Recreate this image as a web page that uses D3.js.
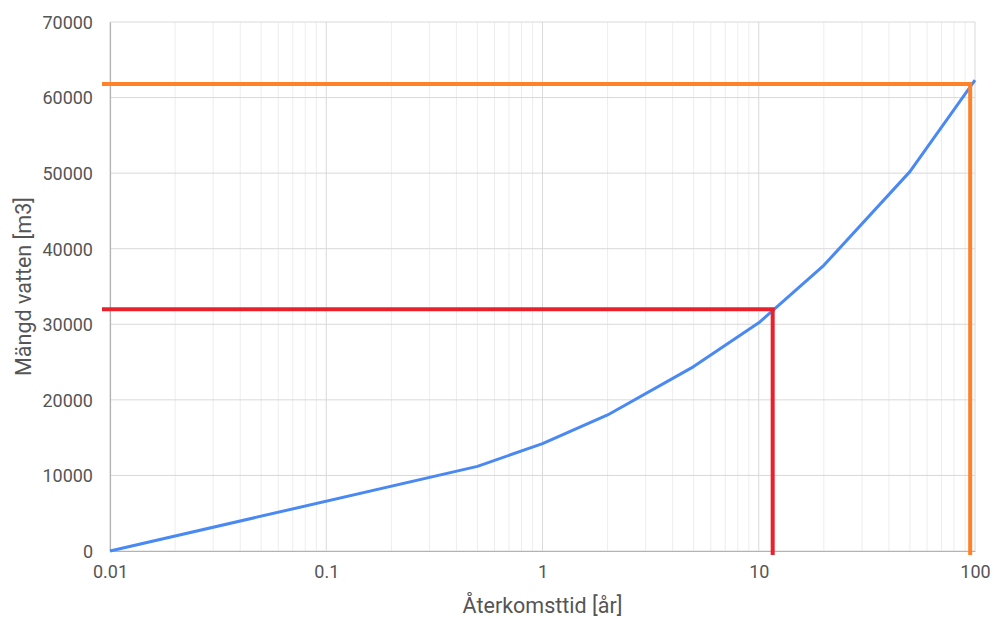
<!DOCTYPE html>
<html>
<head>
<meta charset="utf-8">
<script src="https://cdn.jsdelivr.net/npm/d3@7"></script>
<style>
  body { margin: 0; background: #fff; }
  text { font-family: Roboto, "Noto Sans", Arial, sans-serif; }
</style>
</head>
<body>
<div id="chart"></div>
<script>
// data
const years = [0.01, 0.5, 1, 2, 5, 10, 20, 50, 100];
const volume = [0, 11200, 14200, 18000, 24400, 30200, 37800, 50200, 62300];
const xTicks = [0.01, 0.1, 1, 10, 100];
const yTicks = [0, 10000, 20000, 30000, 40000, 50000, 60000, 70000];
// markerad punkt: 10-årsregn och 100-årsregn
const refYear = [11.6, 95];
const refVolume = [32000, 61800];
const refColor = ["#e9212c", "#ff8229"];

const W = 994, H = 619;
const margin = {top: 22, right: 19, bottom: 68, left: 110};
const width = W - margin.left - margin.right;
const height = H - margin.top - margin.bottom;

const svg = d3.select("#chart").append("svg")
    .attr("width", W).attr("height", H);
const g = svg.append("g")
    .attr("transform", "translate(" + margin.left + "," + margin.top + ")");

const x = d3.scaleLog().domain([0.01, 100]).range([0, width]);
const y = d3.scaleLinear().domain([0, 70000]).range([height, 0]);

// minor grid
const minor = [];
for (let e = -2; e < 2; e++) {
    for (let k = 2; k <= 9; k++) minor.push(k * Math.pow(10, e));
}
g.append("g").selectAll("line").data(minor).enter().append("line")
    .attr("x1", d => x(d)).attr("x2", d => x(d))
    .attr("y1", 0).attr("y2", height)
    .attr("stroke", "#ededed").attr("stroke-width", 1);

// major grid
g.append("g").selectAll("line").data(xTicks).enter().append("line")
    .attr("x1", d => x(d)).attr("x2", d => x(d))
    .attr("y1", 0).attr("y2", height)
    .attr("stroke", "#d9d9d9").attr("stroke-width", 1);
g.append("g").selectAll("line").data(yTicks).enter().append("line")
    .attr("x1", 0).attr("x2", width)
    .attr("y1", d => y(d)).attr("y2", d => y(d))
    .attr("stroke", "#d9d9d9").attr("stroke-width", 1);

// axes
const xAxis = d3.axisBottom(x).tickValues(xTicks).tickFormat(d => String(d)).tickSize(0).tickPadding(14);
const yAxis = d3.axisLeft(y).tickValues(yTicks).tickFormat(d => String(d)).tickSize(0).tickPadding(17);

const xg = g.append("g").attr("transform", "translate(0," + height + ")").call(xAxis);
const yg = g.append("g").call(yAxis);
[xg, yg].forEach(a => {
    a.select(".domain").attr("stroke", "#b3b3b3").attr("stroke-width", 1.2);
    a.selectAll(".tick text")
        .attr("fill", "#555")
        .style("font-size", "18px")
        .style("font-family", "Roboto, Arial, sans-serif");
});
yg.selectAll(".tick text").attr("dy", "0.35em");

// line
const line = d3.line()
    .x((d, i) => x(years[i]))
    .y(d => y(d));
g.append("path")
    .attr("d", line(volume))
    .attr("fill", "none")
    .attr("stroke", "#4a89f3")
    .attr("stroke-width", 3)
    .attr("stroke-linejoin", "round");

// reference lines
for (let i = 0; i < refYear.length; i++) {
    const rg = g.append("g")
        .attr("stroke", refColor[i]).attr("stroke-width", 4).attr("fill", "none");
    rg.append("line")
        .attr("x1", x(0.01) - 8).attr("x2", x(refYear[i]) + 2)
        .attr("y1", y(refVolume[i])).attr("y2", y(refVolume[i]));
    rg.append("line")
        .attr("x1", x(refYear[i])).attr("x2", x(refYear[i]))
        .attr("y1", y(refVolume[i])).attr("y2", y(0) + 4);
}

// axis titles
svg.append("text")
    .attr("x", margin.left + width / 2)
    .attr("y", 613)
    .attr("text-anchor", "middle")
    .attr("fill", "#555")
    .style("font-size", "21.5px")
    .text("Återkomsttid [år]");

svg.append("text")
    .attr("transform", "translate(31," + (margin.top + height / 2) + ") rotate(-90)")
    .attr("text-anchor", "middle")
    .attr("fill", "#555")
    .style("font-size", "21.5px")
    .text("Mängd vatten [m3]");
</script>
</body>
</html>
